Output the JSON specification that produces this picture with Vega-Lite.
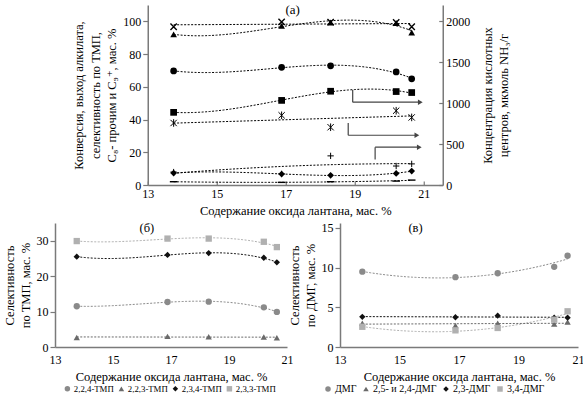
{
  "$schema": "https://vega.github.io/schema/vega-lite/v6.json",
  "padding": {"left": 3, "top": 4, "right": -18, "bottom": 0},
  "config": {
    "font": "Liberation Serif, Times New Roman, DejaVu Serif, serif",
    "view": {"stroke": null},
    "axis": {"grid": false, "domainColor": "#7a7a7a", "domainWidth": 1.5, "tickColor": "#7a7a7a", "tickWidth": 1.2, "labelFlush": false,
      "labelFont": "Liberation Serif, Times New Roman, DejaVu Serif, serif", "titleFont": "Liberation Serif, Times New Roman, DejaVu Serif, serif", "labelFontSize": 12, "titleFontSize": 12.5,
      "titleFontWeight": "normal", "labelColor": "black", "titleColor": "black"},
    "legend": {"labelFont": "Liberation Serif, Times New Roman, DejaVu Serif, serif", "labelFontSize": 8.8, "labelColor": "black"},
    "text": {"font": "Liberation Serif, Times New Roman, DejaVu Serif, serif"}
  },
  "datasets": {
    "aL": [
      {"x": 13.75, "y": 96.7, "s": "X"}, {"x": 16.88, "y": 99.7, "s": "X"}, {"x": 18.3, "y": 99.5, "s": "X"}, {"x": 20.2, "y": 99.3, "s": "X"}, {"x": 20.65, "y": 96.7, "s": "X"},
      {"x": 13.75, "y": 92.0, "s": "T"}, {"x": 16.88, "y": 97.3, "s": "T"}, {"x": 18.3, "y": 99.3, "s": "T"}, {"x": 20.2, "y": 99.0, "s": "T"}, {"x": 20.65, "y": 93.2, "s": "T"},
      {"x": 13.75, "y": 69.7, "s": "C"}, {"x": 16.88, "y": 71.9, "s": "C"}, {"x": 18.3, "y": 72.8, "s": "C"}, {"x": 20.2, "y": 69.1, "s": "C"}, {"x": 20.65, "y": 64.9, "s": "C"},
      {"x": 13.75, "y": 7.3, "s": "D"}, {"x": 16.88, "y": 6.7, "s": "D"}, {"x": 18.3, "y": 5.9, "s": "D"}, {"x": 20.2, "y": 7.1, "s": "D"}, {"x": 20.65, "y": 8.5, "s": "D"},
      {"x": 13.75, "y": 2.0, "s": "M"}, {"x": 16.88, "y": 1.6, "s": "M"}, {"x": 18.3, "y": 2.0, "s": "M"}, {"x": 20.2, "y": 2.4, "s": "M"}, {"x": 20.65, "y": 3.0, "s": "M"}
    ],
    "aR": [
      {"x": 13.75, "c": 888, "s": "S"}, {"x": 16.88, "c": 1034, "s": "S"}, {"x": 18.3, "c": 1146, "s": "S"}, {"x": 20.2, "c": 1142, "s": "S"}, {"x": 20.65, "c": 1130, "s": "S"},
      {"x": 13.75, "c": 758, "s": "Zh"}, {"x": 16.88, "c": 852, "s": "Zh"}, {"x": 18.3, "c": 706, "s": "Zh"}, {"x": 20.2, "c": 908, "s": "Zh"}, {"x": 20.65, "c": 826, "s": "Zh"},
      {"x": 13.75, "c": 158, "s": "P"}, {"x": 16.88, "c": 136, "s": "P"}, {"x": 18.3, "c": 356, "s": "P"}, {"x": 20.2, "c": 232, "s": "P"}, {"x": 20.65, "c": 258, "s": "P"}
    ],
    "arrows": [
      {"x": 18.94, "y": 58.0, "x2": 18.94, "y2": 50.6}, {"x": 18.94, "y": 50.6, "x2": 20.85, "y2": 50.6},
      {"x": 18.81, "y": 37.9, "x2": 18.81, "y2": 30.4}, {"x": 18.81, "y": 30.4, "x2": 20.75, "y2": 30.4},
      {"x": 19.59, "y": 15.6, "x2": 19.59, "y2": 23.1}, {"x": 19.59, "y": 23.1, "x2": 20.82, "y2": 23.1}
    ],
    "heads": [
      {"x": 20.9, "y": 50.6}, {"x": 20.8, "y": 30.4}, {"x": 20.87, "y": 23.1}
    ],
    "b": [
      {"x": 13.75, "y": 11.5, "s": "2,2,4-ТМП"}, {"x": 16.88, "y": 12.7, "s": "2,2,4-ТМП"}, {"x": 18.3, "y": 12.8, "s": "2,2,4-ТМП"}, {"x": 20.2, "y": 11.2, "s": "2,2,4-ТМП"}, {"x": 20.65, "y": 9.9, "s": "2,2,4-ТМП"},
      {"x": 13.75, "y": 2.7, "s": "2,2,3-ТМП"}, {"x": 16.88, "y": 3.0, "s": "2,2,3-ТМП"}, {"x": 18.3, "y": 2.9, "s": "2,2,3-ТМП"}, {"x": 20.2, "y": 2.8, "s": "2,2,3-ТМП"}, {"x": 20.65, "y": 2.6, "s": "2,2,3-ТМП"},
      {"x": 13.75, "y": 25.5, "s": "2,3,4-ТМП"}, {"x": 16.88, "y": 26.0, "s": "2,3,4-ТМП"}, {"x": 18.3, "y": 26.5, "s": "2,3,4-ТМП"}, {"x": 20.2, "y": 25.2, "s": "2,3,4-ТМП"}, {"x": 20.65, "y": 23.9, "s": "2,3,4-ТМП"},
      {"x": 13.75, "y": 29.9, "s": "2,3,3-ТМП"}, {"x": 16.88, "y": 30.6, "s": "2,3,3-ТМП"}, {"x": 18.3, "y": 30.6, "s": "2,3,3-ТМП"}, {"x": 20.2, "y": 29.7, "s": "2,3,3-ТМП"}, {"x": 20.65, "y": 28.2, "s": "2,3,3-ТМП"}
    ],
    "c": [
      {"x": 13.75, "y": 9.5, "s": "ДМГ"}, {"x": 16.88, "y": 8.8, "s": "ДМГ"}, {"x": 18.3, "y": 9.3, "s": "ДМГ"}, {"x": 20.2, "y": 10.1, "s": "ДМГ"}, {"x": 20.65, "y": 11.5, "s": "ДМГ"},
      {"x": 13.75, "y": 3.0, "s": "2,5- и 2,4-ДМГ"}, {"x": 16.88, "y": 2.7, "s": "2,5- и 2,4-ДМГ"}, {"x": 18.3, "y": 3.0, "s": "2,5- и 2,4-ДМГ"}, {"x": 20.2, "y": 2.9, "s": "2,5- и 2,4-ДМГ"}, {"x": 20.65, "y": 3.15, "s": "2,5- и 2,4-ДМГ"},
      {"x": 13.75, "y": 3.8, "s": "2,3-ДМГ"}, {"x": 16.88, "y": 3.75, "s": "2,3-ДМГ"}, {"x": 18.3, "y": 3.95, "s": "2,3-ДМГ"}, {"x": 20.2, "y": 3.7, "s": "2,3-ДМГ"}, {"x": 20.65, "y": 3.7, "s": "2,3-ДМГ"},
      {"x": 13.75, "y": 2.55, "s": "3,4-ДМГ"}, {"x": 16.88, "y": 2.1, "s": "3,4-ДМГ"}, {"x": 18.3, "y": 2.4, "s": "3,4-ДМГ"}, {"x": 20.2, "y": 3.45, "s": "3,4-ДМГ"}, {"x": 20.65, "y": 4.5, "s": "3,4-ДМГ"}
    ]
  },
  "columns": 1,
  "center": true,
  "spacing": 4,
  "resolve": {"scale": {"x": "independent", "y": "independent", "color": "independent", "shape": "independent", "stroke": "independent"}, "legend": {"color": "independent", "shape": "independent"}},
  "concat": [
    {
      "width": 295, "height": 180,
      "encoding": {
        "x": {"field": "x", "type": "quantitative", "scale": {"domain": [13, 21.55], "nice": false, "zero": false},
          "axis": {"values": [13, 15, 17, 19, 21], "tickSize": -4, "labelPadding": 7, "title": "Содержание оксида лантана, мас. %", "titlePadding": 5}}
      },
      "layer": [
        {
          "encoding": {
            "y": {"field": "y", "type": "quantitative", "scale": {"domain": [0, 110], "nice": false},
              "axis": {"values": [0, 20, 40, 60, 80, 100], "tickSize": 5, "title": ["Конверсия, выход алкилата,", "селективность по ТМП,", "C₈- прочим и C₉⁺, мас. %"], "titleLineHeight": 16.5, "titlePadding": 4}}
          },
          "layer": [
            {"data": {"name": "arrows"}, "mark": {"type": "rule", "color": "#444", "strokeWidth": 1.2}, "encoding": {"x2": {"field": "x2"}, "y2": {"field": "y2"}}},
            {"data": {"name": "heads"}, "mark": {"type": "point", "shape": "triangle-right", "filled": true, "color": "#444", "size": 30, "opacity": 1}, "encoding": {}},
            {"data": {"name": "aL"}, "transform": [{"filter": "datum.s === 'T' || datum.s === 'C' || datum.s === 'D'"}, {"regression": "y", "on": "x", "method": "poly", "order": 3, "groupby": ["s"]}],
              "mark": {"type": "line", "color": "black", "strokeDash": [2, 1.5], "strokeWidth": 1}, "encoding": {"detail": {"field": "s"}}},
            {"data": {"name": "aL"}, "transform": [{"filter": "datum.s === 'X'"}, {"regression": "y", "on": "x", "method": "linear", "groupby": ["s"]}],
              "mark": {"type": "line", "color": "black", "strokeDash": [2, 1.5], "strokeWidth": 1}, "encoding": {"detail": {"field": "s"}}},
            {"data": {"name": "aL"}, "transform": [{"filter": "datum.s === 'M'"}, {"regression": "y", "on": "x", "method": "poly", "order": 2, "groupby": ["s"]}],
              "mark": {"type": "line", "color": "black", "strokeDash": [2, 1.5], "strokeWidth": 1}, "encoding": {"detail": {"field": "s"}}},
            {"data": {"name": "aL"}, "transform": [{"filter": "datum.s === 'T' || datum.s === 'C' || datum.s === 'D'"}],
              "mark": {"type": "point", "filled": true, "color": "black", "size": 45, "opacity": 1},
              "encoding": {"shape": {"field": "s", "type": "nominal", "legend": null,
                "scale": {"domain": ["X", "T", "C", "D", "M", "S", "Zh", "P"], "range": ["M-1,-1L1,1M-1,1L1,-1", "triangle-up", "circle", "diamond", "M-1.2,0L1.2,0", "square", "M-1,-1L1,1M-1,1L1,-1M0,-1.2L0,1.2", "M-1,0L1,0M0,-1L0,1"]}}}},
            {"data": {"name": "aL"}, "transform": [{"filter": "datum.s === 'X' || datum.s === 'M'"}],
              "mark": {"type": "point", "filled": false, "color": "black", "size": 40, "strokeWidth": 1.4, "opacity": 1},
              "encoding": {"shape": {"field": "s", "type": "nominal", "legend": null,
                "scale": {"domain": ["X", "T", "C", "D", "M", "S", "Zh", "P"], "range": ["M-1,-1L1,1M-1,1L1,-1", "triangle-up", "circle", "diamond", "M-1.2,0L1.2,0", "square", "M-1,-1L1,1M-1,1L1,-1M0,-1.2L0,1.2", "M-1,0L1,0M0,-1L0,1"]}}}},
            {"data": {"values": [{"x": 17.2, "y": 106.8, "t": "(а)"}]}, "mark": {"type": "text", "fontSize": 13, "color": "black"}, "encoding": {"text": {"field": "t"}}}
          ]
        },
        {
          "data": {"name": "aR"},
          "encoding": {
            "y": {"field": "c", "type": "quantitative", "scale": {"domain": [0, 2200], "nice": false},
              "axis": {"orient": "right", "values": [0, 500, 1000, 1500, 2000], "format": "d", "tickSize": -4, "labelPadding": 7, "title": ["Концентрация кислотных", "центров, мкмоль NH₃/г"], "titleAngle": 270, "titleBaseline": "bottom", "titleLineHeight": 16.5, "titlePadding": 8}}
          },
          "layer": [
            {"transform": [{"filter": "datum.s === 'S'"}, {"regression": "c", "on": "x", "method": "poly", "order": 3, "groupby": ["s"]}],
              "mark": {"type": "line", "color": "black", "strokeDash": [2, 1.5], "strokeWidth": 1}, "encoding": {"detail": {"field": "s"}}},
            {"transform": [{"filter": "datum.s === 'Zh'"}, {"regression": "c", "on": "x", "method": "linear", "groupby": ["s"]}],
              "mark": {"type": "line", "color": "black", "strokeDash": [2, 1.5], "strokeWidth": 1}, "encoding": {"detail": {"field": "s"}}},
            {"transform": [{"filter": "datum.s === 'P'"}, {"regression": "c", "on": "x", "method": "poly", "order": 2, "groupby": ["s"]}],
              "mark": {"type": "line", "color": "black", "strokeDash": [2, 1.5], "strokeWidth": 1}, "encoding": {"detail": {"field": "s"}}},
            {"transform": [{"filter": "datum.s === 'S'"}],
              "mark": {"type": "point", "filled": true, "color": "black", "size": 45, "opacity": 1},
              "encoding": {"shape": {"field": "s", "type": "nominal", "legend": null,
                "scale": {"domain": ["X", "T", "C", "D", "M", "S", "Zh", "P"], "range": ["M-1,-1L1,1M-1,1L1,-1", "triangle-up", "circle", "diamond", "M-1.2,0L1.2,0", "square", "M-1,-1L1,1M-1,1L1,-1M0,-1.2L0,1.2", "M-1,0L1,0M0,-1L0,1"]}}}},
            {"transform": [{"filter": "datum.s === 'Zh' || datum.s === 'P'"}],
              "mark": {"type": "point", "filled": false, "color": "black", "size": 40, "strokeWidth": 1, "opacity": 1},
              "encoding": {"shape": {"field": "s", "type": "nominal", "legend": null,
                "scale": {"domain": ["X", "T", "C", "D", "M", "S", "Zh", "P"], "range": ["M-1,-1L1,1M-1,1L1,-1", "triangle-up", "circle", "diamond", "M-1.2,0L1.2,0", "square", "M-1,-1L1,1M-1,1L1,-1M0,-1.2L0,1.2", "M-1,0L1,0M0,-1L0,1"]}}}}
          ]
        }
      ],
      "resolve": {"scale": {"y": "independent"}}
    },
    {
      "columns": 2,
      "align": "none",
      "spacing": -5,
      "resolve": {"scale": {"x": "independent", "y": "independent", "color": "independent", "shape": "independent", "stroke": "independent"}, "legend": {"color": "independent", "shape": "independent"}},
      "concat": [
        {
          "width": 232, "height": 124,
          "data": {"name": "b"},
          "encoding": {
            "x": {"field": "x", "type": "quantitative", "scale": {"domain": [13, 21], "nice": false, "zero": false},
              "axis": {"values": [13, 15, 17, 19, 21], "ticks": false, "labelPadding": 7, "title": "Содержание оксида лантана, мас. %", "titlePadding": 5}},
            "y": {"field": "y", "type": "quantitative", "scale": {"domain": [0, 35], "nice": false},
              "axis": {"values": [0, 10, 20, 30], "tickSize": 5, "title": ["Селективность", "по ТМП, мас. %"], "titleLineHeight": 16, "titlePadding": 4}}
          },
          "layer": [
            {"transform": [{"filter": "datum.s !== '2,2,3-ТМП'"}, {"regression": "y", "on": "x", "method": "poly", "order": 3, "groupby": ["s"]}],
              "mark": {"type": "line", "strokeDash": [2, 1.5], "strokeWidth": 1},
              "encoding": {"stroke": {"field": "s", "type": "nominal", "legend": null, "scale": {"domain": ["2,3,3-ТМП", "2,3,4-ТМП", "2,2,3-ТМП", "2,2,4-ТМП"], "range": ["#b0b0b0", "#111111", "#6a6a6a", "#8a8a8a"]}}}},
            {"transform": [{"filter": "datum.s === '2,2,3-ТМП'"}, {"regression": "y", "on": "x", "method": "linear", "groupby": ["s"]}],
              "mark": {"type": "line", "strokeDash": [2, 1.5], "strokeWidth": 1},
              "encoding": {"stroke": {"field": "s", "type": "nominal", "legend": null, "scale": {"domain": ["2,3,3-ТМП", "2,3,4-ТМП", "2,2,3-ТМП", "2,2,4-ТМП"], "range": ["#b0b0b0", "#111111", "#6a6a6a", "#8a8a8a"]}}}},
            {"mark": {"type": "point", "filled": true, "size": 40, "opacity": 1},
              "encoding": {
                "color": {"field": "s", "type": "nominal", "scale": {"domain": ["2,2,4-ТМП", "2,2,3-ТМП", "2,3,4-ТМП", "2,3,3-ТМП"], "range": ["#8a8a8a", "#6a6a6a", "#111111", "#b0b0b0"]},
                  "legend": {"orient": "none", "legendX": 8, "legendY": 161, "direction": "horizontal", "title": null, "symbolSize": 30, "columnPadding": 3, "labelOffset": 2}},
                "shape": {"field": "s", "type": "nominal", "scale": {"domain": ["2,2,4-ТМП", "2,2,3-ТМП", "2,3,4-ТМП", "2,3,3-ТМП"], "range": ["circle", "triangle-up", "diamond", "square"]},
                  "legend": {"orient": "none", "legendX": 8, "legendY": 161, "direction": "horizontal", "title": null, "symbolSize": 30, "columnPadding": 3, "labelOffset": 2}}
              }},
            {"data": {"values": [{"x": 16.17, "y": 33.6, "t": "(б)"}]}, "mark": {"type": "text", "fontSize": 12.5, "color": "black"}, "encoding": {"text": {"field": "t"}}}
          ]
        },
        {
          "width": 238, "height": 124,
          "data": {"name": "c"},
          "encoding": {
            "x": {"field": "x", "type": "quantitative", "scale": {"domain": [13, 21], "nice": false, "zero": false},
              "axis": {"values": [13, 15, 17, 19, 21], "ticks": false, "labelPadding": 7, "title": "Содержание оксида лантана, мас. %", "titlePadding": 5}}
          },
          "layer": [
            {
              "encoding": {
                "y": {"field": "y", "type": "quantitative", "scale": {"domain": [0, 15.63], "nice": false},
                  "axis": {"values": [0, 5, 10, 15], "tickSize": 5, "title": ["Селективность", "по ДМГ, мас. %"], "titleLineHeight": 16, "titlePadding": 4}}
              },
              "layer": [
                {"transform": [{"filter": "datum.s === 'ДМГ' || datum.s === '3,4-ДМГ'"}, {"regression": "y", "on": "x", "method": "poly", "order": 2, "groupby": ["s"]}],
                  "mark": {"type": "line", "strokeDash": [2, 1.5], "strokeWidth": 1},
                  "encoding": {"stroke": {"field": "s", "type": "nominal", "legend": null, "scale": {"domain": ["3,4-ДМГ", "2,3-ДМГ", "2,5- и 2,4-ДМГ", "ДМГ"], "range": ["#b0b0b0", "#111111", "#6a6a6a", "#8a8a8a"]}}}},
                {"transform": [{"filter": "datum.s === '2,5- и 2,4-ДМГ' || datum.s === '2,3-ДМГ'"}, {"regression": "y", "on": "x", "method": "linear", "groupby": ["s"]}],
                  "mark": {"type": "line", "strokeDash": [2, 1.5], "strokeWidth": 1},
                  "encoding": {"stroke": {"field": "s", "type": "nominal", "legend": null, "scale": {"domain": ["3,4-ДМГ", "2,3-ДМГ", "2,5- и 2,4-ДМГ", "ДМГ"], "range": ["#b0b0b0", "#111111", "#6a6a6a", "#8a8a8a"]}}}},
                {"mark": {"type": "point", "filled": true, "size": 40, "opacity": 1},
                  "encoding": {
                    "color": {"field": "s", "type": "nominal", "scale": {"domain": ["ДМГ", "2,5- и 2,4-ДМГ", "2,3-ДМГ", "3,4-ДМГ"], "range": ["#8a8a8a", "#6a6a6a", "#111111", "#b0b0b0"]},
                      "legend": {"orient": "none", "legendX": -17, "legendY": 161, "direction": "horizontal", "title": null, "symbolSize": 30, "columnPadding": 4, "labelOffset": 2, "labelFontSize": 10}},
                    "shape": {"field": "s", "type": "nominal", "scale": {"domain": ["ДМГ", "2,5- и 2,4-ДМГ", "2,3-ДМГ", "3,4-ДМГ"], "range": ["circle", "triangle-up", "diamond", "square"]},
                      "legend": {"orient": "none", "legendX": -17, "legendY": 161, "direction": "horizontal", "title": null, "symbolSize": 30, "columnPadding": 4, "labelOffset": 2, "labelFontSize": 10}}
                  }}
              ]
            },
            {"data": {"values": [{"x": 15.54, "y": 15.0, "t": "(в)"}]}, "mark": {"type": "text", "fontSize": 12.5, "color": "black"},
              "encoding": {"text": {"field": "t"},
                "y": {"field": "y", "type": "quantitative", "scale": {"domain": [0, 15.63], "nice": false},
                  "axis": {"orient": "right", "offset": 25, "domainOpacity": 0, "ticks": false, "labels": false, "title": null, "minExtent": 0, "maxExtent": 0}}}}
          ],
          "resolve": {"scale": {"y": "independent"}}
        }
      ]
    }
  ]
}
